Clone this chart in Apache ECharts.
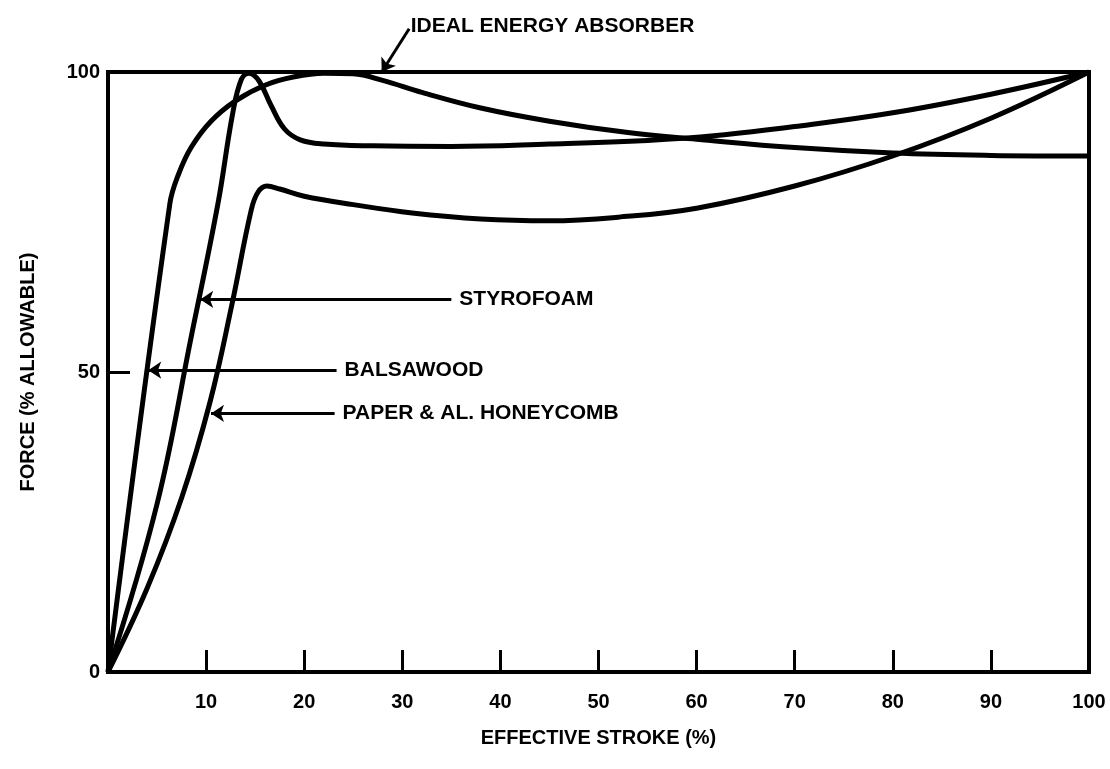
<!DOCTYPE html>
<html>
<head>
<meta charset="utf-8">
<script src="https://cdn.jsdelivr.net/npm/echarts@6/dist/echarts.min.js"></script>
<style>
  html, body { margin: 0; background: #fff; }
  #main { width: 1110px; height: 769px; }
</style>
</head>
<body>
<div id="main"></div>
<script>
// force vs stroke curves (x = stroke %, y = force %)
var balsawood = [
  [0, 0], [6.3, 78], [7.2, 83], [8.5, 87.5], [10.5, 91.8], [13, 95.2], [16, 97.8],
  [19, 99.2], [22, 99.8], [25, 99.7], [28, 98.6], [32, 96.6], [38, 94], [45, 91.8],
  [53, 89.9], [60, 88.8], [70, 87.4], [80, 86.5], [90, 86.1], [100, 86]
];
var styrofoam = [
  [0, 0], [5, 28], [8.5, 56], [11.2, 78], [12.7, 93], [13.6, 98.8], [14.4, 99.8],
  [15.4, 98.5], [16.6, 94.5], [18, 90.5], [19.6, 88.7], [22, 88], [27, 87.7],
  [35, 87.6], [45, 88], [55, 88.6], [62, 89.4], [70, 90.9], [80, 93.2], [90, 96.3], [100, 100]
];
var honeycomb = [
  [0, 0], [4, 14], [7.5, 29], [10.4, 45], [12.6, 61], [14.6, 77], [15.3, 80],
  [16.2, 81], [17.5, 80.5], [20, 79.3], [25, 77.9], [31, 76.5], [38, 75.5], [45, 75.2],
  [52, 75.8], [60, 77.3], [70, 81], [80, 86], [90, 92.3], [100, 100]
];
var ideal = [[0, 100], [100, 100]];

// callout arrows: [from, to] in data units, text at the tail
var noteNames = ['IDEAL ENERGY ABSORBER', 'STYROFOAM', 'BALSAWOOD', 'PAPER & AL. HONEYCOMB'];
var noteFrom = [[30.7, 107.2], [35, 62.1], [23.3, 50.3], [23.1, 43.1]];
var noteTo = [[27.9, 100], [9.4, 62.1], [4.1, 50.3], [10.5, 43.1]];

var font = 'Liberation Sans, Arial, sans-serif';

var chart = echarts.init(document.getElementById('main'));

var curve = function (name, data) {
  return {
    name: name,
    type: 'line',
    data: data,
    smooth: 0.4,
    showSymbol: false,
    symbol: 'none',
    lineStyle: { color: '#000', width: 5 },
    z: 3
  };
};

var notes = noteNames.map(function (n, i) {
  var item = { name: n, coords: [noteFrom[i], noteTo[i]] };
  if (i === 0) item.label = { distance: 3 };
  return item;
});

chart.setOption({
  animation: false,
  backgroundColor: '#fff',
  grid: {
    left: 108, right: 21, top: 72, bottom: 97,
    show: true, borderColor: '#000', borderWidth: 4
  },
  xAxis: {
    type: 'value', min: 0, max: 100, interval: 10,
    name: 'EFFECTIVE STROKE (%)', nameLocation: 'middle', nameGap: 56,
    nameTextStyle: { fontFamily: font, fontSize: 20, fontWeight: 'bold', color: '#000' },
    axisLine: { show: true, lineStyle: { color: '#000', width: 4 } },
    axisTick: { show: true, inside: true, length: 22, lineStyle: { color: '#000', width: 3 } },
    axisLabel: {
      margin: 20, fontFamily: font, fontSize: 20, fontWeight: 'bold', color: '#000',
      formatter: function (v) { return v === 0 ? '' : v; }
    },
    splitLine: { show: false }
  },
  yAxis: {
    type: 'value', min: 0, max: 100, interval: 50,
    name: 'FORCE (% ALLOWABLE)', nameLocation: 'middle', nameGap: 70, nameRotate: 90,
    nameTextStyle: { fontFamily: font, fontSize: 20, fontWeight: 'bold', color: '#000' },
    axisLine: { show: true, lineStyle: { color: '#000', width: 4 } },
    axisTick: { show: true, inside: true, length: 22, lineStyle: { color: '#000', width: 3 } },
    axisLabel: { margin: 8, fontFamily: font, fontSize: 20, fontWeight: 'bold', color: '#000' },
    splitLine: { show: false }
  },
  series: [
    {
      name: 'Ideal energy absorber',
      type: 'line',
      data: ideal,
      symbol: 'none',
      lineStyle: { color: '#000', width: 4 },
      z: 4
    },
    curve('Balsawood', balsawood),
    curve('Styrofoam', styrofoam),
    curve('Paper & Al. honeycomb', honeycomb),
    {
      name: 'notes',
      type: 'lines',
      coordinateSystem: 'cartesian2d',
      clip: false,
      data: notes,
      symbol: ['none', 'arrow'],
      symbolSize: [0, 13],
      lineStyle: { color: '#000', width: 3, opacity: 1 },
      label: {
        show: true, position: 'start', distance: 8,
        align: 'left', verticalAlign: 'middle',
        formatter: '{b}',
        fontFamily: font, fontSize: 21, fontWeight: 'bold', color: '#000'
      },
      z: 5
    }
  ]
});
</script>
</body>
</html>
